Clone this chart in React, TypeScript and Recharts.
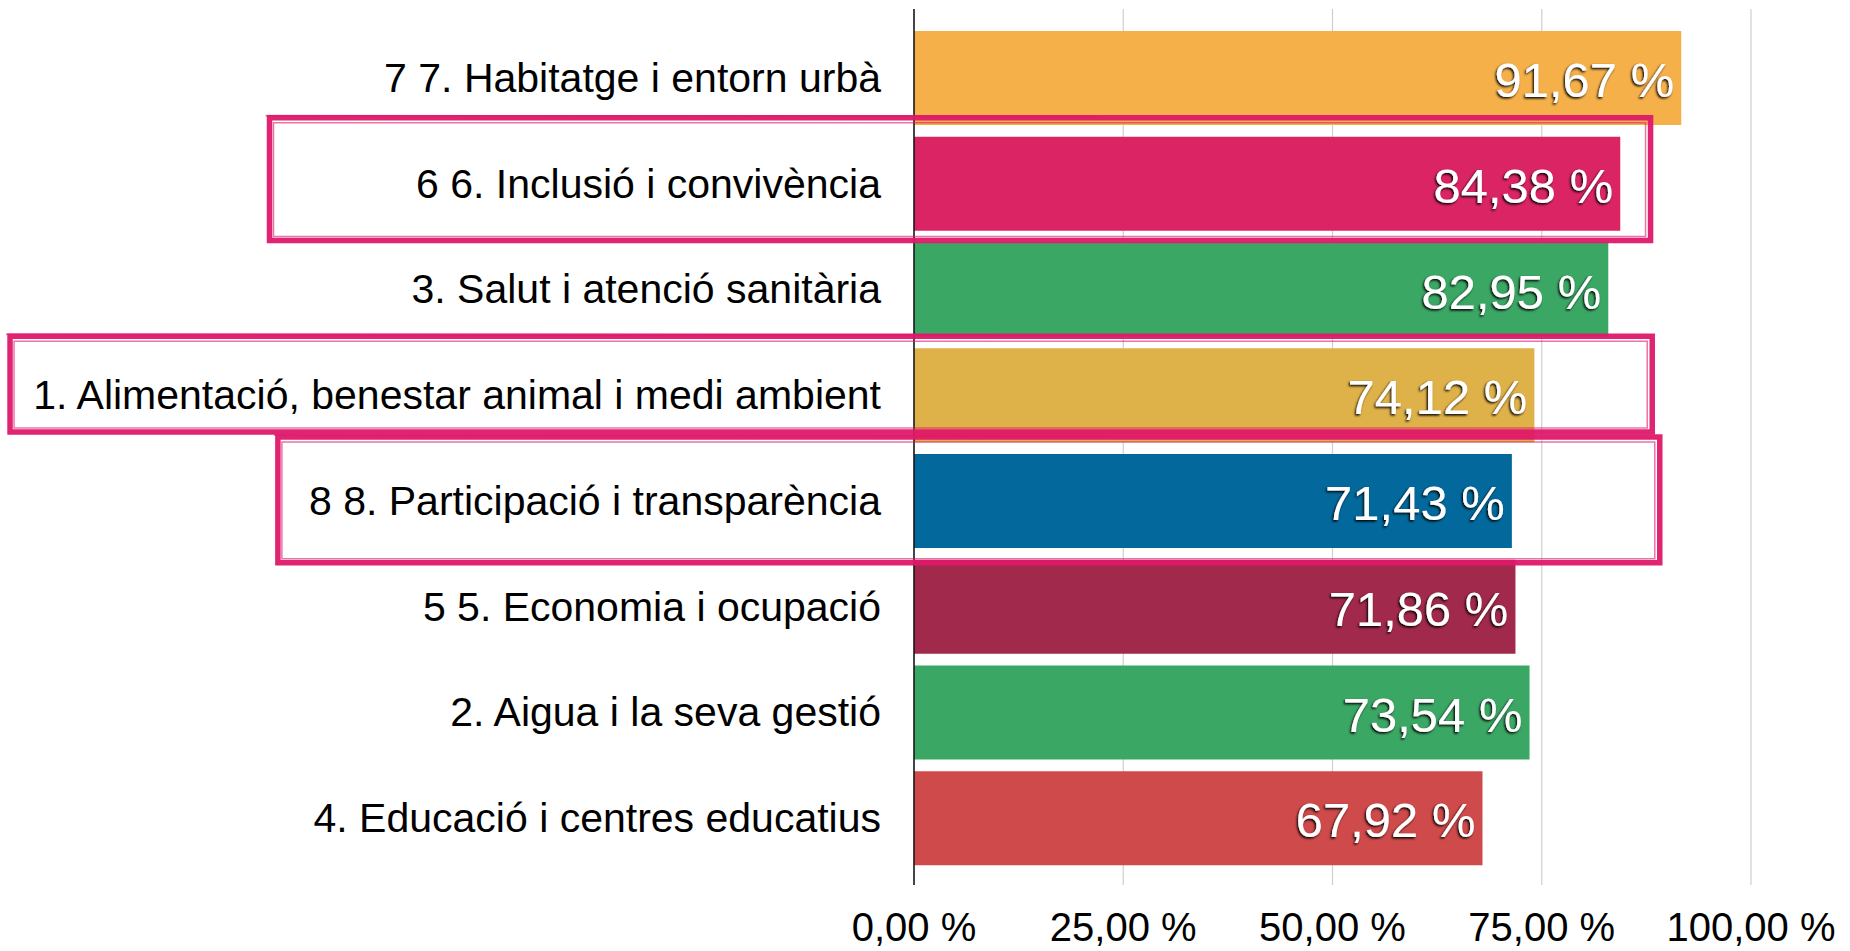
import React from 'react'
import {
  BarChart, Bar, XAxis, YAxis, CartesianGrid, Cell, LabelList, ReferenceArea,
} from 'recharts'

const categories = [
  '7 7. Habitatge i entorn urbà',
  '6 6. Inclusió i convivència',
  '3. Salut i atenció sanitària',
  '1. Alimentació, benestar animal i medi ambient',
  '8 8. Participació i transparència',
  '5 5. Economia i ocupació',
  '2. Aigua i la seva gestió',
  '4. Educació i centres educatius',
]
const values = [91.67, 84.38, 82.95, 74.12, 71.43, 71.86, 73.54, 67.92]
const colors = ['#F5B04A', '#DB2464', '#3BA764', '#DFB149', '#03689B', '#A1294B', '#3BA764', '#CF4A4A']
const xTicks = [0, 25, 50, 75, 100]

// marcs dibuixats a mà sobre algunes categories
const highlights = [
  { cat: categories[1], from: -77, to: 88, top: -13, bottom: 4 },
  { cat: categories[3], from: -108, to: 88.2, top: -6, bottom: -16 },
  { cat: categories[4], from: -76, to: 89.1, top: -11, bottom: 9 },
]

const data = categories.map((name, i) => ({ name, value: values[i] }))

const FONT = '"Liberation Sans", Arial, Helvetica, sans-serif'
const PINK = '#DE1869'

const fmt = (v: number) => `${v.toFixed(2).replace('.', ',')} %`

function HandBox(props: any) {
  const { x, y, width, height, top, bottom } = props
  const y0 = y + top
  const h = height - top + bottom
  return (
    <g fill="none" stroke={PINK}>
      <rect x={x} y={y0} width={width} height={h} strokeWidth={5.5} strokeOpacity={0.95} />
      <rect x={x + 4} y={y0 + 5} width={width - 9} height={h - 9} strokeWidth={1.5} strokeOpacity={0.6} />
      <line x1={x - 4} y1={y0 - 2} x2={x + width * 0.6} y2={y0 - 1} strokeWidth={2} strokeOpacity={0.5} />
    </g>
  )
}

function CatTick(props: any) {
  const { x, y, payload } = props
  return (
    <text x={x} y={y} textAnchor="end" dominantBaseline="central" fontSize={41} fontFamily={FONT} fill="#000">
      {payload.value}
    </text>
  )
}

function ValueLabel(props: any) {
  const { x, y, width, height, value } = props
  return (
    <text
      x={x + width - 7}
      y={y + height / 2 + 2}
      textAnchor="end"
      dominantBaseline="central"
      fontSize={49}
      fontFamily={FONT}
      fill="#fff"
      filter="url(#txtShadow)"
    >
      {fmt(Number(value))}
    </text>
  )
}

export default function App() {
  return (
    <div style={{ width: 1850, height: 951, background: '#fff' }}>
      <style>{'body{margin:0}'}</style>
      <svg width={0} height={0} style={{ position: 'absolute' }}>
        <defs>
          <filter id="txtShadow" x="-10%" y="-20%" width="120%" height="140%">
            <feDropShadow dx={-1.2} dy={1.5} stdDeviation={1} floodColor="#000" floodOpacity={1} />
          </filter>
        </defs>
      </svg>
      <BarChart
        width={1850}
        height={951}
        data={data}
        layout="vertical"
        margin={{ top: 9, right: 99, left: 0, bottom: 0 }}
      >
        <CartesianGrid horizontal={false} vertical stroke="#CFCFCF" strokeWidth={1.2} />
        <XAxis
          type="number"
          domain={[0, 100]}
          ticks={xTicks}
          tickFormatter={fmt}
          axisLine={false}
          tickLine={false}
          tickSize={0}
          tickMargin={28}
          height={66}
          tick={{ fontSize: 40, fontFamily: FONT, fill: '#000' }}
          interval={0}
        />
        <YAxis
          type="category"
          dataKey="name"
          width={914}
          axisLine={{ stroke: '#111', strokeWidth: 1.5 }}
          tickLine={false}
          tickSize={0}
          tickMargin={33}
          tick={<CatTick />}
          interval={0}
          padding={{ top: 16, bottom: 14 }}
        />
        <Bar dataKey="value" barSize={94} isAnimationActive={false}>
          {data.map((d, i) => (
            <Cell key={d.name} fill={colors[i]} />
          ))}
          <LabelList dataKey="value" content={<ValueLabel />} />
        </Bar>
        {highlights.map(h => (
          <ReferenceArea
            key={h.cat}
            y1={h.cat}
            y2={h.cat}
            x1={h.from}
            x2={h.to}
            ifOverflow="visible"
            zIndex={2500}
            shape={(p: any) => <HandBox {...p} top={h.top} bottom={h.bottom} />}
          />
        ))}
      </BarChart>
    </div>
  )
}
